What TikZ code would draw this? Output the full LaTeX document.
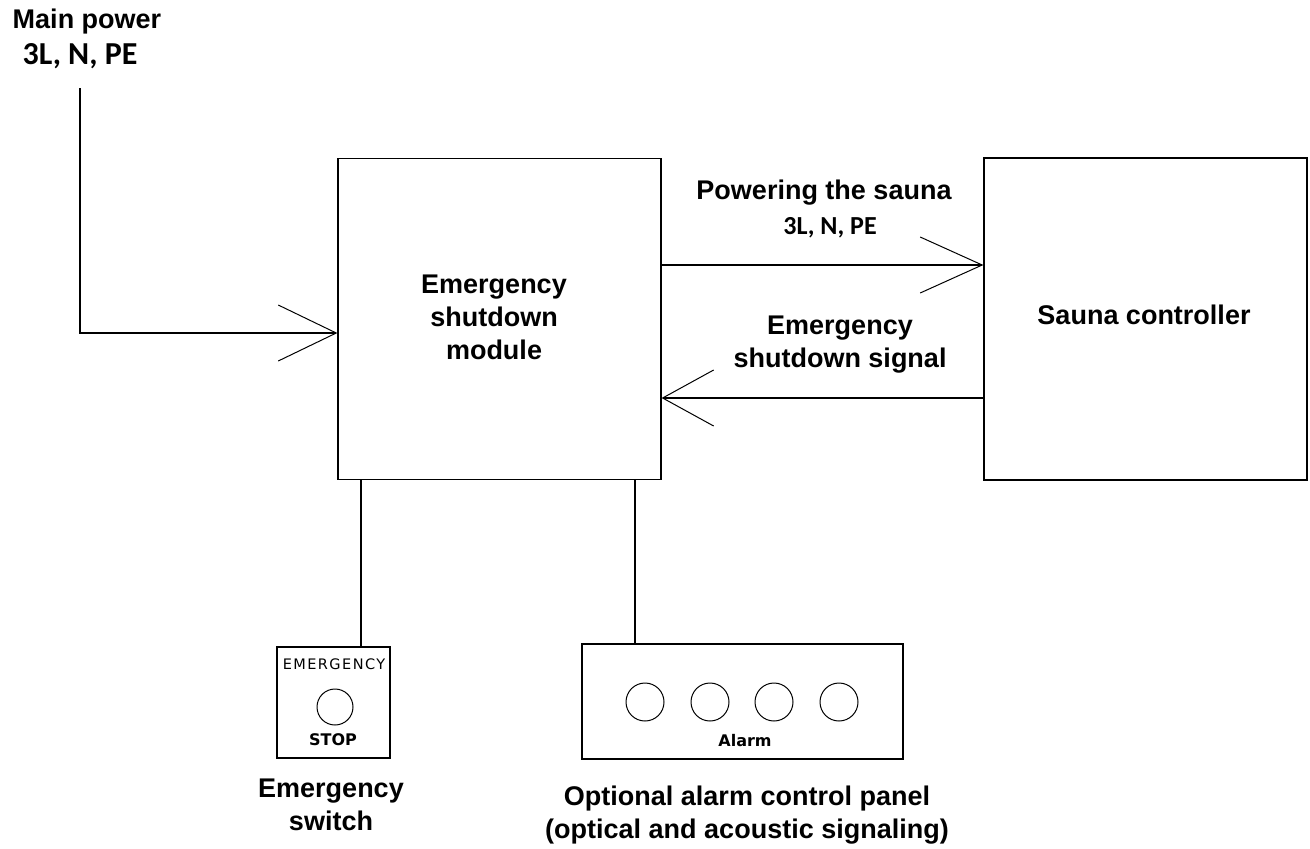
\documentclass[tikz,border=0pt]{standalone}
\usepackage{fontspec}
\setmainfont{Liberation Sans}
\newfontfamily\calib{Carlito}
\newfontfamily\dvs{DejaVu Sans}
\newfontfamily\dvsw[LetterSpace=10]{DejaVu Sans}
\usetikzlibrary{arrows.meta,calc}
\begin{document}
\begin{tikzpicture}[x=1pt,y=-1pt,line width=1.2pt,
  box/.style={draw,rectangle,inner sep=0pt},
  lbl/.style={font=\fontsize{27}{33}\selectfont\bfseries,align=center,inner sep=0pt},
  bigcal/.style={font=\calib\fontsize{32}{36}\selectfont\bfseries,inner sep=0pt},
  midcal/.style={font=\calib\fontsize{26}{30}\selectfont\bfseries,inner sep=0pt},
  tiny/.style={font=\dvsw\fontsize{14.5}{16}\selectfont,inner sep=0pt},
  tinyb/.style={font=\dvs\fontsize{16}{18}\selectfont\bfseries,inner sep=0pt},
  lamp/.style={draw,circle,line width=1pt,minimum size=38pt,inner sep=0pt},
  barb/.style={-{Straight Barb[length=#1,width=56pt,line width=1pt]}}
]
\useasboundingbox (0,0) rectangle (1310,849);

% main boxes
\node[box,minimum width=323pt,minimum height=321pt] (esm) at (499.5,319) {};
\node[box,minimum width=323pt,minimum height=322pt] (sc) at (1145.5,319) {};
\node[box,minimum width=113pt,minimum height=111pt] (sw) at (333.5,702.5) {};
\node[box,minimum width=321pt,minimum height=115pt] (al) at (742.5,701.5) {};

% box texts
\node[lbl] (esmt) at (494,317) {Emergency\\shutdown\\module};
\node[lbl] (sct) at (1144,315) {Sauna controller};

% emergency switch contents
\node[tiny] (swt) at (334,664) {EMERGENCY};
\node[lamp,minimum size=36pt] (swb) at (335,707) {};
\node[tinyb] (sws) at (333,740) {STOP};

% alarm panel contents
\node[lamp] (l1) at (645,702) {};
\node[lamp] (l2) at (710,702) {};
\node[lamp] (l3) at (774,702) {};
\node[lamp] (l4) at (839,702) {};
\node[tinyb] (alt) at (745,741) {Alarm};

% outside labels
\node[lbl] (mp1) at (87,22) {Main power};
\node[bigcal] (mp2) at (80,56) {3L, N, PE};
\node[lbl] (pw1) at (824,193) {Powering the sauna};
\node[midcal] (pw2) at (830,228) {3L, N, PE};
\node[lbl] (sig) at (840,345) {Emergency\\shutdown signal};
\node[lbl] (swl) at (331,805) {Emergency\\switch};
\node[lbl] (all) at (747,815) {Optional alarm control panel\\(optical and acoustic signaling)};

% connectors
\coordinate (mp) at (80,88);
\draw[barb=58pt] (mp) |- ($(esm.west)+(0,14)$);
\draw[barb=62pt] ($(esm.east)+(0,-54)$) -- ($(sc.west)+(0,-54)$);
\draw[barb=51pt] ($(sc.west)+(0,79)$) -- ($(esm.east)+(0,79)$);
\coordinate (s1) at (361,480);
\draw (s1) -- (s1 |- sw.north);
\coordinate (a1) at (635,480);
\draw (a1) -- (a1 |- al.north);
\end{tikzpicture}
\end{document}
